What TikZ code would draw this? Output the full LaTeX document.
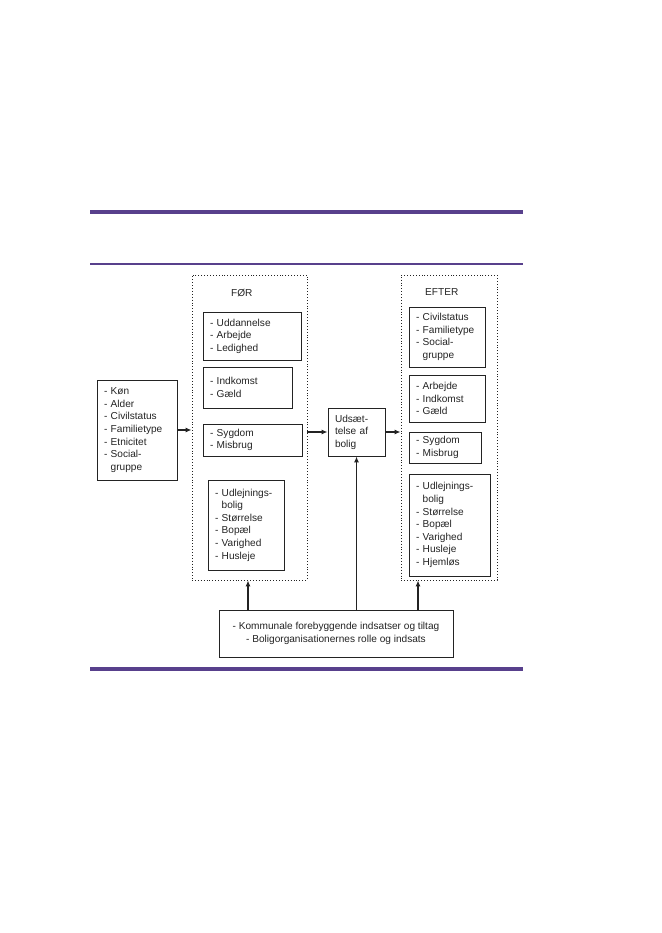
\documentclass[tikz,border=0pt]{standalone}
\usepackage{fontspec}
\setmainfont{Liberation Sans}
\usetikzlibrary{arrows.meta}
\definecolor{bar}{RGB}{88,64,140}
\definecolor{ink}{RGB}{35,35,35}

\begin{document}
\begin{tikzpicture}[
  x=1pt, y=-1pt,
  font=\fontsize{10.1}{12.6}\selectfont,
  every node/.style={text=ink},
  item/.style={draw=ink, line width=0.95pt, align=left, inner xsep=7pt, inner ysep=0pt},
  group/.style={draw=ink, dotted, line width=0.9pt, inner sep=0pt},
  head/.style={anchor=west, inner sep=0pt},
  arr/.style={draw=ink, line width=1.1pt, -{Latex[length=6pt, width=5pt]}},
]
\useasboundingbox (0,0) rectangle (661,933);
% purple frame lines
\draw[bar, line width=4pt] (90,212) -- (523,212);
\draw[bar, line width=1.4pt] (90,264) -- (523,264);
\draw[bar, line width=3.5pt] (90,669) -- (523,669);
% background variables
\node[item, minimum width=80, minimum height=100, text width=66, inner xsep=7pt] (bag) at (137,430)
  {-~Køn\\-~Alder\\-~Civilstatus\\-~Familietype\\-~Etnicitet\\-~Social-\\\phantom{-~}gruppe};
% before
\node[group, minimum width=115, minimum height=305] (foer) at (249.5,427.5) {};
\node[head] (foerlbl) at (231,293) {FØR};
\node[item, minimum width=98, minimum height=48, text width=84] (f1) at (252,336)
  {-~Uddannelse\\-~Arbejde\\-~Ledighed};
\node[item, minimum width=89, minimum height=41, text width=75] (f2) at (247.5,387.5)
  {-~Indkomst\\-~Gæld};
\node[item, minimum width=99, minimum height=32, text width=85] (f3) at (252.5,440)
  {-~Sygdom\\-~Misbrug};
\node[item, minimum width=76, minimum height=90, text width=62] (f4) at (246,525)
  {-~Udlejnings-\\\phantom{-~}bolig\\-~Størrelse\\-~Bopæl\\-~Varighed\\-~Husleje};
% eviction
\node[item, minimum width=57, minimum height=48, text width=43] (uds) at (356.5,432)
  {Udsæt-\\telse af\\bolig};
% after
\node[group, minimum width=96, minimum height=305] (efter) at (449,427.5) {};
\node[head] (efterlbl) at (425,292) {EFTER};
\node[item, minimum width=76, minimum height=60, text width=62] (e1) at (447,337)
  {-~Civilstatus\\-~Familietype\\-~Social-\\\phantom{-~}gruppe};
\node[item, minimum width=76, minimum height=47, text width=62] (e2) at (447,398.5)
  {-~Arbejde\\-~Indkomst\\-~Gæld};
\node[item, minimum width=72, minimum height=31, text width=58] (e3) at (445,447.5)
  {-~Sygdom\\-~Misbrug};
\node[item, minimum width=81, minimum height=102, text width=67] (e4) at (449.5,525)
  {-~Udlejnings-\\\phantom{-~}bolig\\-~Størrelse\\-~Bopæl\\-~Varighed\\-~Husleje\\-~Hjemløs};
% efforts
\node[item, minimum width=234, minimum height=47, align=center] (tiltag) at (336,633.5)
  {-~Kommunale forebyggende indsatser og tiltag\\-~Boligorganisationernes rolle og indsats};
\coordinate (upl) at (248,0);
\coordinate (upr) at (418,0);
% connectors
\draw[arr] (bag.east) -- (bag.east -| foer.west);
\draw[arr] (uds.west -| foer.east) -- (uds.west);
\draw[arr] (uds.east) -- (uds.east -| efter.west);
\draw[arr] (upl |- tiltag.north) -- (upl |- foer.south);
\draw[arr] (uds.south |- tiltag.north) -- (uds.south);
\draw[arr] (upr |- tiltag.north) -- (upr |- efter.south);
\end{tikzpicture}
\end{document}
